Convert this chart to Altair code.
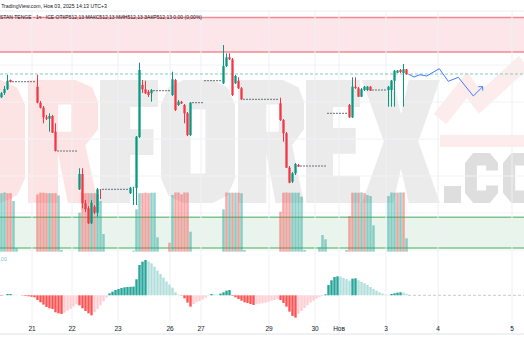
import altair as alt
import pandas as pd

# ---------------- data ----------------
cdl_idx = [0, 1, 2, 3, 12, 13, 14, 15, 16, 17, 18, 26, 27, 28, 29, 30, 31, 32, 33,
           43, 44, 45, 46, 47, 48, 49, 50, 57, 58, 59, 60, 61, 62, 63,
           74, 75, 76, 77, 78, 79, 80, 93, 94, 95, 96, 97, 98, 99,
           116, 117, 118, 119, 120, 121, 122, 123, 129, 130, 131, 132, 133, 134, 135]
cdl_open = [511.897, 511.94, 511.977, 512.07, 512.003, 511.843, 511.793, 511.697, 511.683, 511.71, 511.553,
            510.977, 511.13, 510.837, 510.787, 510.637, 510.803, 510.743, 510.977,
            510.937, 510.993, 510.99, 511.5, 512.02, 511.977, 511.953, 511.937,
            511.92, 512.07, 511.82, 511.853, 511.82, 511.737, 511.52,
            512.037, 512.21, 512.297, 512.277, 512.037, 512.063, 511.987,
            511.837, 511.67, 511.537, 511.193, 511.053, 511.137, 511.22,
            511.82, 511.697, 512.003, 511.987, 511.903, 511.97, 511.97, 512.003,
            511.97, 511.97, 512.063, 512.143, 512.17, 512.14, 512.177]
cdl_high = [511.95, 512.01, 512.12, 512.075, 512.12, 511.86, 511.81, 511.72, 511.737, 511.72, 511.637,
            511.187, 511.187, 510.87, 510.81, 510.87, 510.82, 510.99, 510.98,
            511.0, 511.003, 511.51, 512.243, 512.07, 512.063, 511.97, 511.98,
            512.153, 512.08, 511.87, 511.86, 511.83, 511.75, 511.85,
            512.42, 512.337, 512.337, 512.29, 512.12, 512.097, 512.0,
            511.893, 511.68, 511.55, 511.21, 511.15, 511.24, 511.23,
            511.83, 512.097, 512.097, 512.0, 511.99, 512.01, 512.01, 512.01,
            512.01, 512.07, 512.17, 512.17, 512.18, 512.23, 512.18]
cdl_low = [511.89, 511.92, 511.97, 512.045, 511.837, 511.785, 511.637, 511.67, 511.553, 511.54, 511.355,
           510.97, 510.787, 510.75, 510.63, 510.63, 510.73, 510.703, 510.88,
           510.93, 510.82, 510.82, 511.49, 511.94, 511.93, 511.9, 511.853,
           511.91, 511.76, 511.81, 511.83, 511.637, 511.51, 511.51,
           512.03, 512.2, 512.27, 511.91, 512.03, 511.98, 511.87,
           511.66, 511.453, 511.19, 511.037, 511.04, 511.12, 511.2,
           511.69, 511.69, 511.98, 511.9, 511.9, 511.96, 511.96, 511.96,
           511.803, 511.803, 511.803, 512.14, 512.14, 511.803, 512.12]
cdl_close = [511.937, 511.98, 512.063, 512.05, 511.843, 511.793, 511.697, 511.683, 511.71, 511.543, 511.36,
             511.13, 510.837, 510.777, 510.637, 510.843, 510.743, 510.977, 510.975,
             510.993, 510.995, 511.503, 512.17, 511.977, 511.937, 511.92, 511.97,
             512.077, 511.77, 511.853, 511.835, 511.737, 511.52, 511.843,
             512.21, 512.297, 512.277, 511.92, 512.11, 511.987, 511.877,
             511.67, 511.537, 511.193, 511.043, 511.137, 511.23, 511.203,
             511.697, 512.003, 511.99, 511.903, 511.977, 512.003, 512.003, 511.963,
             512.003, 512.063, 512.163, 512.163, 512.15, 512.177, 512.13]

# runs of flat (no-trade) bars
flat_start = [4, 19, 34, 51, 64, 68, 81, 100, 109, 124]
flat_end = [11, 25, 42, 56, 67, 73, 92, 108, 115, 128]
flat_price = [512.053, 511.36, 510.977, 511.963, 511.843, 512.063, 511.877, 511.21, 511.737, 511.97]

vol_idx = [0, 1, 2, 3, 4, 5, 12, 13, 14, 15, 16, 17, 18, 19, 20,
           26, 27, 28, 29, 30, 31, 32, 33, 34, 44, 45, 46, 47, 48, 49, 50, 51, 52,
           56, 57, 58, 59, 60, 61, 62, 63, 74, 75, 76, 77, 78, 79, 80, 81,
           93, 94, 95, 96, 97, 98, 99, 100, 101, 106, 107, 108,
           115, 116, 117, 118, 119, 120, 121, 122, 123, 124,
           129, 130, 131, 132, 133, 134, 135]
vol_val = [585, 592, 585, 585, 507, 34, 574, 590, 590, 585, 585, 585, 585, 563, 17,
           390, 585, 585, 585, 585, 585, 578, 507, 177, 10, 424, 585, 585, 590, 585, 590, 590, 144,
           90, 567, 592, 592, 574, 592, 592, 200, 424, 592, 590, 590, 590, 590, 585, 17,
           400, 590, 592, 590, 590, 590, 590, 550, 17, 44, 167, 124,
           17, 357, 590, 590, 590, 592, 585, 567, 557, 264,
           557, 592, 590, 590, 592, 592, 134]
vol_dir = list("uudduu" "ddddudduu" "uddduduuu" "uuuddduuu" "dudddddu" "udududuu"
               "dddduuuuu" "uuu" "uddududuuu" "uuududu")

macd = [-0.01, 0, 0.04, 0.04, 0.02, 0.01, 0, -0.01, -0.02, -0.03,
        -0.04, -0.06, -0.14, -0.21, -0.28, -0.35, -0.39, -0.41, -0.51, -0.54,
        -0.56, -0.52, -0.46, -0.41, -0.34, -0.27, -0.30, -0.39, -0.47, -0.54,
        -0.60, -0.50, -0.41, -0.30, -0.18, -0.07, 0.06, 0.11, 0.16, 0.19,
        0.22, 0.24, 0.25, 0.255, 0.26, 0.48, 0.91, 1.01, 1.06, 1.02,
        0.96, 0.86, 0.74, 0.64, 0.53, 0.41, 0.32, 0.23, 0.09, 0.02,
        -0.01, -0.09, -0.22, -0.34, -0.26, -0.21, -0.17, -0.13, -0.07, -0.01,
        0.04, 0.03, 0.02, 0.05, 0.09, 0.14, 0.16, -0.02, -0.06, -0.11,
        -0.16, -0.21, -0.23, -0.26, -0.29, -0.27, -0.25, -0.24, -0.22, -0.19,
        -0.16, -0.14, -0.12, -0.14, -0.23, -0.34, -0.49, -0.62, -0.67, -0.56,
        -0.47, -0.38, -0.30, -0.22, -0.16, -0.10, -0.05, -0.02, 0.03, 0.31,
        0.45, 0.55, 0.57, 0.56, 0.52, 0.49, 0.44, 0.50, 0.51, 0.45,
        0.40, 0.36, 0.31, 0.25, 0.19, 0.14, 0.09, 0.05, 0.02, 0.01,
        0.04, 0.06, 0.08, 0.09, 0.08, 0.05]

fc_x = [136.1, 138.0, 140.0, 142.23, 146.43, 149.43, 152.77, 157.77, 160.9]
fc_p = [512.13, 512.10, 512.123, 512.11, 512.183, 512.057, 512.097, 511.91, 512.003]
arrow_x = [159.43, 160.9, 160.9]
arrow_p = [512.003, 512.003, 511.963]

resist_zone = [512.35, 512.695]
support_zone = [510.39, 510.697]
last_price = 512.13
price_grid = [512.59, 512.22, 511.85, 511.48, 511.11, 510.74, 510.37]

tick_pos = [10.67, 24.0, 39.33, 56.67, 67.0, 89.67, 105.0, 113.0, 128.67, 146.0, 170.67]
tick_lab = ["21", "22", "23", "26", "27", "29", "30", "Нов", "3", "4", "5"]

# ---------------- layout constants ----------------
W, H = 524, 350
XDOM = [0, W / 3]
PDOM = [509.37, 512.87]
VDOM = [-983, 2517]
MDOM = [-1.641, 8.859]
GREEN, RED = "#089981", "#f23645"
FONT = "Liberation Sans"

xs = alt.Scale(domain=XDOM, nice=False, zero=False, padding=0)
def X(f):
    return alt.X(f, type="quantitative", scale=xs, axis=None)
def YP(f):
    return alt.Y(f, type="quantitative", scale=alt.Scale(domain=PDOM, nice=False, zero=False, padding=0), axis=None)
def YV(f):
    return alt.Y(f, type="quantitative", scale=alt.Scale(domain=VDOM, nice=False, zero=False, padding=0), axis=None)
def YM(f):
    return alt.Y(f, type="quantitative", scale=alt.Scale(domain=MDOM, nice=False, zero=False, padding=0), axis=None)

cdf = pd.DataFrame({"i": cdl_idx, "o": cdl_open, "h": cdl_high, "l": cdl_low, "c": cdl_close})
cdf["xc"] = cdf["i"] + 0.5
cdf["dir"] = ["up" if c >= o else "dn" for o, c in zip(cdf["o"], cdf["c"])]
dir_color = alt.Color("dir:N", scale=alt.Scale(domain=["up", "dn"], range=[GREEN, RED]), legend=None)

fdf = pd.DataFrame({"s": flat_start, "e": [e + 1 for e in flat_end], "p": flat_price})

vdf = pd.DataFrame({"i": vol_idx, "v": vol_val, "d": vol_dir})
vdf["xc"] = vdf["i"] + 0.5
vdf["z"] = 0

mdf = pd.DataFrame({"i": list(range(len(macd))), "m": macd})
mdf["xc"] = mdf["i"] + 0.5
mdf["z"] = 0.0
prev = [0.0] + macd[:-1]
cat = []
for v, p in zip(macd, prev):
    if v >= 0:
        cat.append("ur" if v >= p else "uf")
    else:
        cat.append("df" if v < p else "dr")
mdf["k"] = cat

fcdf = pd.DataFrame({"x": fc_x, "p": fc_p, "o": range(len(fc_x))})
ardf = pd.DataFrame({"x": arrow_x, "p": arrow_p, "o": range(len(arrow_x))})
tdf = pd.DataFrame({"x": tick_pos, "t": tick_lab})
zdf = pd.DataFrame({"lo": [resist_zone[0], support_zone[0]], "hi": [resist_zone[1], support_zone[1]],
                    "k": ["r", "s"]})
zlines = pd.DataFrame({"p": resist_zone + support_zone, "k": ["r", "r", "s", "s"]})
gdf = pd.DataFrame({"p": price_grid})

base = alt.Chart(pd.DataFrame({"a": [0]}))

# ---------------- watermark (block letters drawn as custom symbol paths) ----------------
GLYPHS = {
    "F": [[(0, 0), (1, 0), (1, .22), (.52, .22), (.52, .4), (.92, .4), (.92, .61), (.52, .61), (.52, 1), (0, 1)]],
    "O": [[(.3, 0), (.7, 0), (.9, .06), (1, .2), (1, .8), (.9, .94), (.7, 1), (.3, 1), (.1, .94), (0, .8), (0, .2),
           (.1, .06)],
          [(.4, .24), (.4, .76), (.6, .76), (.6, .24)]],
    "R": [[(0, 0), (.68, 0), (.92, .06), (1, .18), (1, .4), (.82, .53), (1, 1), (.57, 1), (.43, .6), (.43, 1),
           (0, 1)],
          [(.43, .2), (.43, .42), (.62, .42), (.62, .2)]],
    "E": [[(0, 0), (1, 0), (1, .22), (.5, .22), (.5, .39), (.92, .39), (.92, .6), (.5, .6), (.5, .78), (1, .78),
           (1, 1), (0, 1)]],
    "X": [[(0, 0), (.4, 0), (.5, .28), (.6, 0), (1, 0), (.72, .5), (1, 1), (.6, 1), (.5, .72), (.4, 1), (0, 1),
           (.28, .5)]],
    ".": [[(0, 0), (1, 0), (1, 1), (0, 1)]],
    "c": [[(.25, 0), (.75, 0), (1, .2), (1, .35), (.64, .35), (.64, .25), (.36, .25), (.36, .75), (.64, .75),
           (.64, .65), (1, .65), (1, .8), (.75, 1), (.25, 1), (0, .8), (0, .2)]],
    "o": [[(.25, 0), (.75, 0), (1, .2), (1, .8), (.75, 1), (.25, 1), (0, .8), (0, .2)],
          [(.36, .25), (.36, .75), (.64, .75), (.64, .25)]],
}


def glyph_path(ch, w, h):
    parts = []
    for poly in GLYPHS[ch]:
        pts = ["%.1f,%.1f" % (px * w, py * h) for px, py in poly]
        parts.append("M" + "L".join(pts) + "Z")
    return " ".join(parts)


def glyph(ch, x0, y0, w, h, color):
    return base.mark_point(shape=glyph_path(ch, w, h), size=4, filled=True, opacity=1,
                           color=color, strokeWidth=0).encode(x=alt.value(x0), y=alt.value(y0))


WM_T, WM_H = 80, 123
WM_GRAY, WM_RED, WM_DARK = "#ebebeb", "#fde4e4", "#dedede"
wm_layers = [
    glyph("O", -55, WM_T, 80, WM_H, WM_RED),
    glyph("R", 28, WM_T, 70, WM_H, WM_RED),
    glyph("F", 100, WM_T, 58, WM_H, WM_GRAY),
    glyph("O", 161, WM_T, 74, WM_H, WM_GRAY),
    glyph("R", 238, WM_T, 66, WM_H, WM_GRAY),
    glyph("E", 306, WM_T, 54, WM_H, WM_GRAY),
    glyph("X", 362, WM_T, 78, WM_H, WM_GRAY),
    glyph(".", 444, 186, 17, 17, WM_DARK),
    glyph("c", 465, 153, 33, 50, WM_DARK),
    glyph("o", 503, 153, 34, 50, WM_DARK),
]
logo_bar = base.mark_point(shape="M0,0L84,0L84,12L0,12Z", size=4, filled=True, color=WM_RED,
                           strokeWidth=0).encode(x=alt.value(440), y=alt.value(135))
logo_zig = base.mark_point(shape="M0,57L27,23L40,40L84,0", size=4, filled=False, color=WM_RED,
                           strokeWidth=16, strokeJoin="miter").encode(x=alt.value(440), y=alt.value(62))

# ---------------- chart layers ----------------
zones = alt.Chart(zdf).mark_rect().encode(
    x=alt.value(0), x2=alt.value(W), y=YP("lo"), y2=alt.Y2("hi"),
    color=alt.Color("k:N", scale=alt.Scale(domain=["r", "s"], range=["#fde6e9", "#e9f5ec"]), legend=None))
zone_lines = alt.Chart(zlines).mark_rule(strokeWidth=1.6).encode(
    x=alt.value(0), x2=alt.value(W), y=YP("p"),
    color=alt.Color("k:N", scale=alt.Scale(domain=["r", "s"], range=["#f08a94", "#7cc48a"]), legend=None))

vgrid = alt.Chart(tdf).mark_rule(color="#eef0f4", strokeWidth=1).encode(
    x=X("x"), y=alt.value(11), y2=alt.value(334))
hgrid = alt.Chart(gdf).mark_rule(color="#f0f2f6", strokeWidth=1).encode(
    x=alt.value(0), x2=alt.value(W), y=YP("p"))
top_line = base.mark_rule(color="#eceef2", strokeWidth=1).encode(
    x=alt.value(0), x2=alt.value(W), y=alt.value(11))

vol = alt.Chart(vdf).mark_bar(size=2.5, opacity=0.5).encode(
    x=X("xc"), y=YV("v"), y2=alt.Y2("z"),
    color=alt.Color("d:N", scale=alt.Scale(domain=["u", "d"], range=["#26a69a", "#ef5350"]), legend=None))

last_line = alt.Chart(pd.DataFrame({"p": [last_price]})).mark_rule(
    color="#80cbc4", strokeDash=[3, 2], strokeWidth=1).encode(x=alt.value(0), x2=alt.value(W), y=YP("p"))

flats = alt.Chart(fdf).mark_rule(color="#6b6e78", strokeDash=[2, 1], strokeWidth=1).encode(
    x=X("s"), x2=alt.X2("e"), y=YP("p"))

wicks = alt.Chart(cdf).mark_rule(strokeWidth=1).encode(x=X("xc"), y=YP("l"), y2=alt.Y2("h"), color=dir_color)
bodies = alt.Chart(cdf).mark_bar(size=2.3).encode(x=X("xc"), y=YP("o"), y2=alt.Y2("c"), color=dir_color)

fc = alt.Chart(fcdf).mark_line(color="#3f7cff", strokeWidth=1).encode(x=X("x"), y=YP("p"), order="o:Q")
ar = alt.Chart(ardf).mark_line(color="#3f7cff", strokeWidth=1).encode(x=X("x"), y=YP("p"), order="o:Q")

macd_bars = alt.Chart(mdf).mark_bar(size=2.4).encode(
    x=X("xc"), y=YM("m"), y2=alt.Y2("z"),
    color=alt.Color("k:N", scale=alt.Scale(domain=["ur", "uf", "df", "dr"],
                                           range=["#26a69a", "#b2dfdb", "#ff5252", "#ffcdd2"]), legend=None))
macd_zero = alt.Chart(pd.DataFrame({"s": [len(macd)], "e": [W / 3], "z": [0.0]})).mark_rule(
    color="#c9cbd2", strokeDash=[3, 2], strokeWidth=1).encode(x=X("s"), x2=alt.X2("e"), y=YM("z"))

bottom_line = base.mark_rule(color="#e0e3eb", strokeWidth=1).encode(
    x=alt.value(0), x2=alt.value(W), y=alt.value(334))

tick_text = alt.Chart(tdf).mark_text(font=FONT, fontSize=6.5, color="#131722", baseline="middle").encode(
    x=X("x"), y=alt.value(329), text="t:N")

hdr1 = base.mark_text(text="Опубликовано на TradingView.com, Нов 03, 2025 14:13 UTC+3", font=FONT,
                      fontSize=5.2, align="right", baseline="middle", color="#131722").encode(
    x=alt.value(107), y=alt.value(6))
hdr2 = base.mark_text(text="KAZAKHSTAN TENGE · 1ч · ICE  ОТКР512,13 МАКС512,13 МИН512,13 ЗАКР512,13 0,00 (0,00%)",
                      font=FONT, fontSize=5.0, align="right", baseline="middle", color="#131722").encode(
    x=alt.value(202), y=alt.value(16.5))
macd_lab = base.mark_text(text="0,00", font=FONT, fontSize=5.5, align="right", baseline="middle",
                          color="#80cbc4").encode(x=alt.value(7), y=alt.value(259))

chart = alt.layer(
    *wm_layers, logo_bar, logo_zig, hgrid, top_line, zones, zone_lines, vgrid, vol, last_line, flats, wicks,
    bodies, fc, ar, macd_bars, macd_zero, bottom_line, tick_text, hdr1, hdr2, macd_lab
).resolve_scale(y="independent", color="independent").properties(
    width=W, height=H, autosize=alt.AutoSizeParams(type="none"), padding=0,
    background="white"
).configure_view(stroke=None)

chart.save("out.html", embed_options={"renderer": "svg", "actions": False})
